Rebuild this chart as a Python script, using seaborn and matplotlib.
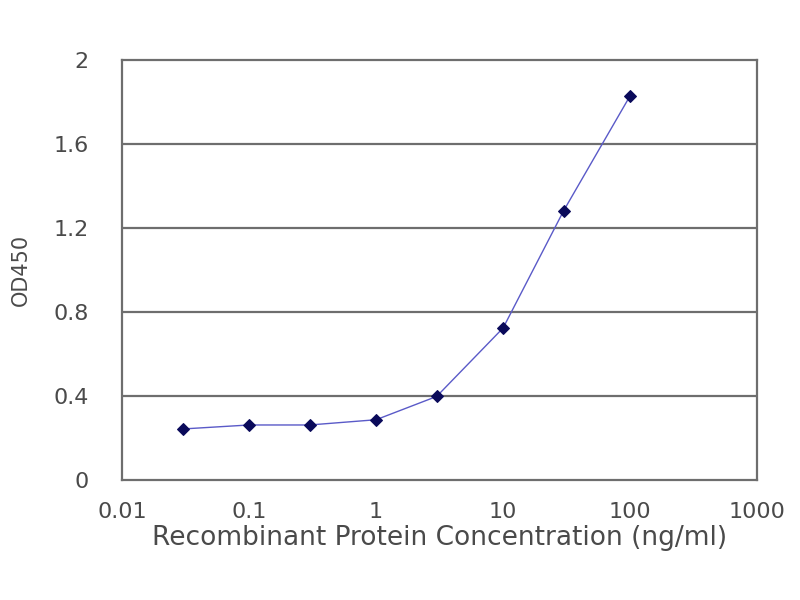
import numpy as np
import pandas as pd
import matplotlib
matplotlib.use("Agg")
import matplotlib.pyplot as plt
import seaborn as sns

# ELISA standard curve values
conc = [0.03, 0.1, 0.3, 1, 3, 10, 30, 100]
od450 = [0.243, 0.262, 0.262, 0.287, 0.398, 0.724, 1.283, 1.830]
x_ticks = [0.01, 0.1, 1, 10, 100, 1000]
x_ticklabels = ["0.01", "0.1", "1", "10", "100", "1000"]
y_ticks = [0, 0.4, 0.8, 1.2, 1.6, 2]
y_ticklabels = ["0", "0.4", "0.8", "1.2", "1.6", "2"]

df = pd.DataFrame({"conc": conc, "od": od450})

sns.set_style("white")
plt.rcParams["font.family"] = ["DejaVu Sans"]
txt = "#4a4a4a"

fig = plt.figure(figsize=(8, 6), dpi=100)
ax = fig.add_axes([0.1525, 0.2, 0.794, 0.7])

for y in y_ticks[1:-1]:
    ax.axhline(y, color="#6e6e6e", lw=1.6, zorder=0)

sns.lineplot(data=df, x="conc", y="od", ax=ax, color="#5a5ac8", lw=1.0,
             marker="D", markersize=6, markerfacecolor="#0a0a5a",
             markeredgecolor="#0a0a5a")

ax.set_xscale("log")
ax.set_xlim(0.01, 1000)
ax.set_ylim(0, 2)
ax.set_xticks(x_ticks)
ax.set_xticklabels(x_ticklabels)
ax.set_yticks(y_ticks)
ax.set_yticklabels(y_ticklabels)
ax.minorticks_off()
ax.tick_params(axis="both", colors=txt, labelsize=16, length=4,
               direction="in", width=1.2)
ax.tick_params(axis="x", pad=16)
ax.tick_params(axis="y", pad=24)

for s in ax.spines.values():
    s.set_color("#6e6e6e")
    s.set_linewidth(1.6)

ax.set_xlabel("Recombinant Protein Concentration (ng/ml)", fontsize=19,
              color=txt, labelpad=2)
ax.set_ylabel("OD450", fontsize=15, color=txt, labelpad=16)

fig.savefig("out.png", dpi=100)
